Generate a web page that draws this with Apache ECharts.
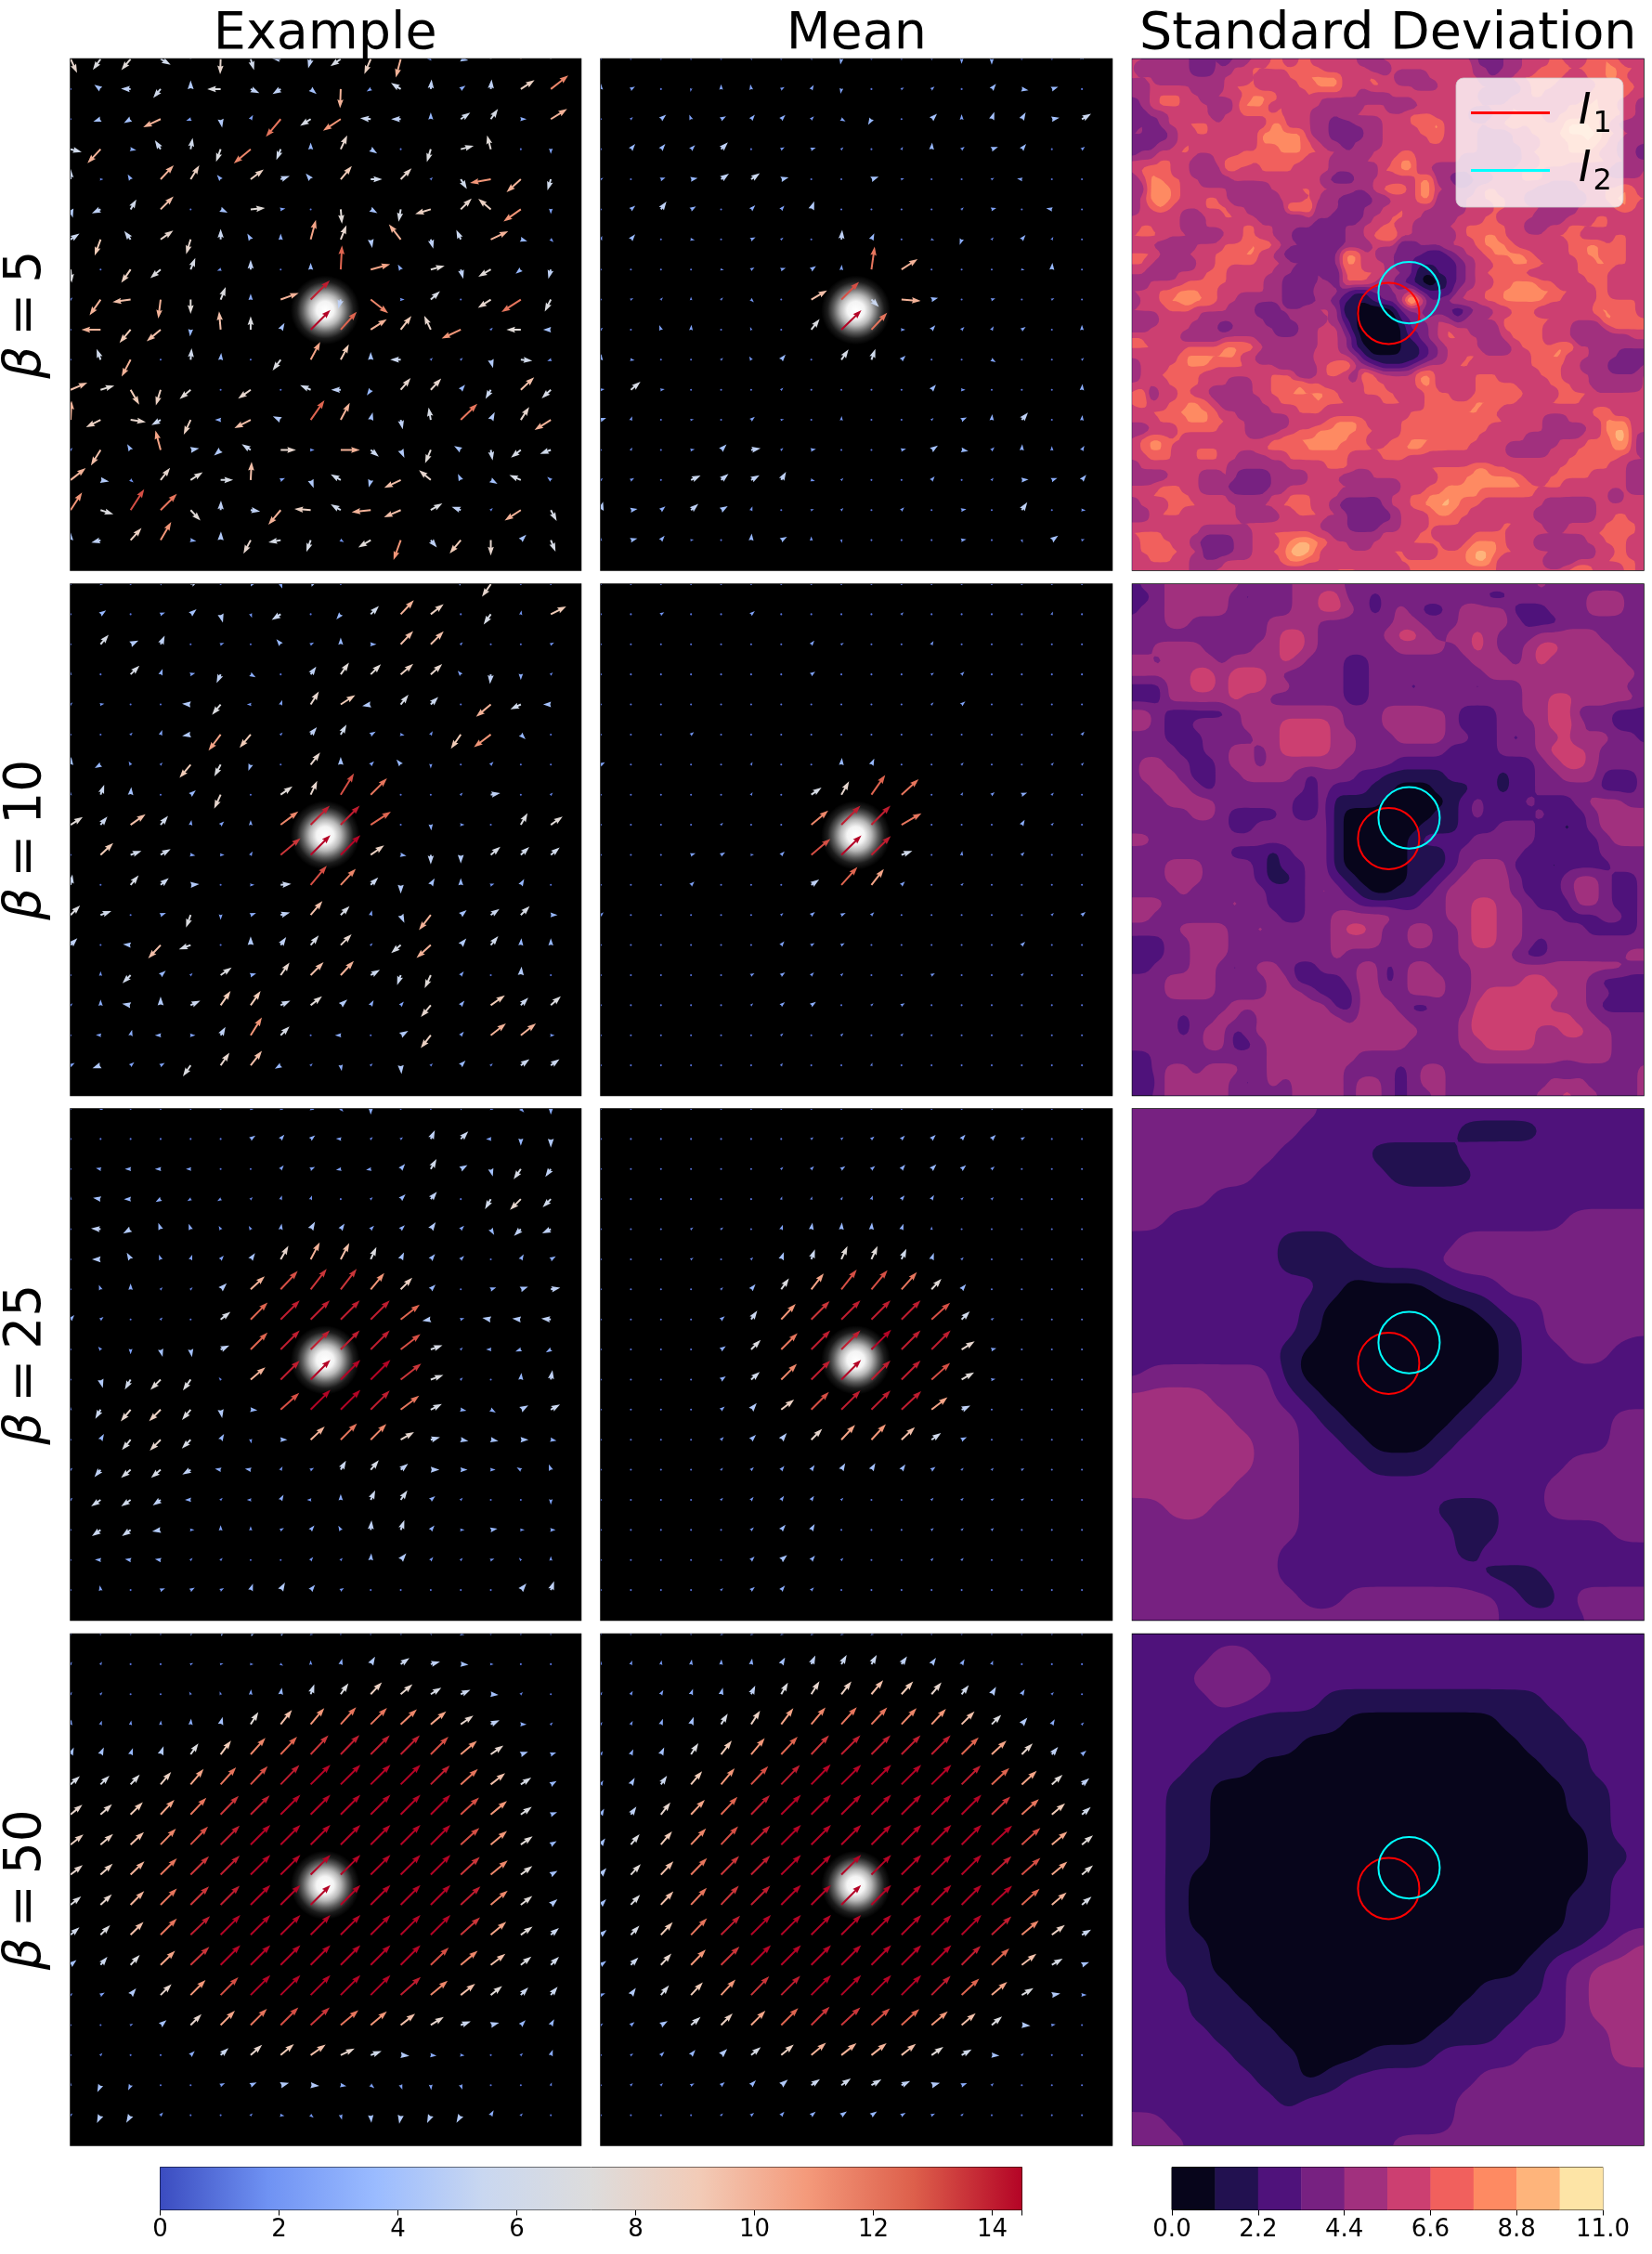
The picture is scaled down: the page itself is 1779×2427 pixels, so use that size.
<!DOCTYPE html>
<html>
<head>
<meta charset="utf-8">
<title>Quiver and standard deviation panels</title>
<script src="https://cdn.jsdelivr.net/npm/echarts@6/dist/echarts.min.js"></script>
<style>
  html, body { margin: 0; padding: 0; background: #fff; }
  #chart { width: 1779px; height: 2427px; }
</style>
</head>
<body>
<div id="chart"></div>
<script>
// labels
const columnTitles = ['Example', 'Mean', 'Standard Deviation'];
const betaValues = [5, 10, 25, 50];

// colour maps
const coolwarmStops = ['#3b4cc0', '#6f92f3', '#9abbff', '#c9d7f0', '#dddcdc', '#f2cbb7', '#f49a7b', '#dd5f4b', '#b40426'];
const magmaBands = ['#07051b', '#221150', '#4f127b', '#772181', '#a1307e', '#cc3f71', '#f1605d', '#fe8a62', '#feb47b', '#fde4a6'];
const bandEdges = [0, 1.1, 2.2, 3.3, 4.4, 5.5, 6.6, 7.7, 8.8, 9.9, 11];

// circles: x, y, r in panel units
const circleI1 = [8.52, 8.46, 1.02];
const circleI2 = [9.2, 7.77, 1.02];
const glowCentre = [8.48, 8.35, 1.15];

// arrow magnitudes and angles (degrees) on the 17 x 17 lattice
const ex5Mag = [
[8,7,7.5,6,5,8,6,5,5,6.5,8.5,10,2,4,6,10,7],
[1,4,5,6,4.5,7,5,5,4,10,2.5,6,5,3,5,8.5,11.5],
[1,4,4,10,2.5,4.5,2.5,12,6.5,11,5.5,5,3.5,6,6.5,3,10],
[6,10,3,5.5,6,7,11.5,6,3.5,8,4,1,7,7,7.5,1,2.5],
[5.5,1.5,3,10,8.5,3,8.5,5,4,9,6,8,1.5,6,11,10,6],
[4.5,5,6,9.5,1,4,7.5,2.5,1,7.5,4,6.5,8.5,8,8.5,11,2.5],
[5.5,9,5.5,8,8,5.5,3.5,3,10.5,8,4.5,10,5,5.5,10,3.5,2],
[7,1,8.5,7,6.5,2,5,1,3.5,12.5,10.5,3,7.5,5,7.5,3.5,5],
[1.5,10,9.5,10,7.5,7,3,10,14,5,11.5,2,6.5,1,8,12,7],
[1,10,9,9.5,3.5,9.5,7,4,14.5,12.5,10,9,8,11,1.5,7.5,4],
[1,6,10,1,6,3.5,1,7,10.5,9,4,5.5,1.5,1.5,4.5,6,2],
[9.5,7.5,9,8.5,7.5,1,8,1,6,5,3.5,8,8,3.5,5.5,9.5,6.5],
[10,8.5,8,5.5,8.5,3,9.5,4.5,12.5,10,4,5,6.5,12,4.5,8,10],
[1.5,9.5,3.5,10.5,4.5,4.5,5.5,8,2,10,5.5,4.5,7.5,4,5.5,6.5,6],
[10,4.5,2,8,7.5,6.5,9.5,2.5,4.5,6,4,9.5,8,3.5,4,6.5,2.5],
[11,7,13,12,7.5,5,5,10,8.5,6,10,9.5,7,5,1.5,10,6.5],
[4,5,8.5,11,3,4.5,8,6.5,6.5,2,7.5,11,5,9,8,4,6.5]];
const ex5Ang = [
[-65,-125,-130,-30,95,-92,-73,175,-105,-145,-113,-105,180,-10,90,90,90],
[0,145,178,-130,90,180,-25,-148,-40,-92,-150,148,85,35,85,33,38],
[45,200,210,205,200,-80,60,-130,-148,-147,175,180,90,35,55,0,32],
[-15,-133,-10,123,80,-110,-140,-112,90,65,-33,45,-107,15,105,45,-90],
[90,0,120,47,58,130,37,20,130,50,0,45,45,-58,190,-138,-107],
[-75,205,60,45,45,-25,5,10,45,-85,-30,-100,197,45,140,-145,-90],
[33,-110,127,35,-107,90,120,90,75,68,-80,128,-75,115,25,-15,-45],
[-85,45,-125,-140,68,200,90,45,90,87,15,120,15,-75,-150,-140,-105],
[45,-125,188,-97,-90,68,90,20,45,-105,-38,0,42,45,-147,-147,-117],
[45,180,-130,-140,-95,95,90,60,45,48,33,52,115,-155,45,180,180],
[45,110,-118,45,85,85,45,-127,62,62,90,180,45,45,-75,-5,200],
[23,17,-60,-107,-140,45,-145,45,157,180,-125,50,47,50,-120,43,-137],
[87,-153,-8,-150,-115,180,-153,155,55,62,75,-78,100,44,63,57,-148],
[45,-122,120,105,10,220,147,0,0,0,-40,-65,-113,150,-80,-142,-160],
[38,-10,-40,52,33,0,87,25,-70,150,-105,-155,140,115,-30,157,140],
[57,-18,57,45,-47,88,-8,-130,176,150,186,-157,30,160,45,-147,-62],
[90,195,48,60,-10,88,-118,190,-110,-30,-150,-110,-50,-130,-90,45,-68]];

const mean5Mag = [
[1,1,1,1,1,1.5,1,1.5,3,1,1,1.5,2.5,3,1,1,2.5],
[3,2.5,1,1.5,2.5,2.5,2,2.5,2.5,1,1.5,2,1,3.5,3.5,3.5,1],
[1,1.5,3.5,2.5,3,3,3,2,2.5,3.5,1,4,2.5,4,4,4,5.5],
[1,3.5,3.5,3,5,1,2,2.5,1.5,1,1.5,3.5,2,3.5,3.5,1,2],
[1.5,1,2.5,3.5,5,5.5,4,1,1,4,1.5,1,1,1.5,2.5,1,1],
[1,3,5,3,1,3,2.5,4.5,1,1,1,1,1.5,2.5,1,3,1],
[2,3.5,1,2,1,2.5,1.5,1,5,3.5,1,1.5,3,1.5,3,1.5,1],
[1,1,1,1,1.5,2,2.5,3,2.5,12,10,1,1,1,1.5,3.5,1],
[1,1.5,1.5,1.5,1.5,2,1,9.5,13,5.5,10,3.5,1,2,1,1.5,1],
[1.5,1,2.5,2.5,1,1.5,1,7,14.5,12,2,3,2,2,2.5,1,2.5],
[3,2,1,1,1.5,2,3.5,1,6.5,6,3,1,1,2.5,1,1,1.5],
[2,6.5,2,1,1,1,1.5,1,1,1,1,3.5,2,1,1,1,3],
[3,2,1,1.5,1,2.5,1.5,1,2,1,1,1.5,3,3,5,1,2.5],
[1,1.5,1,2,4,5,1.5,2.5,1,1,2.5,4,3.5,2,3,2,2.5],
[1.5,2,1,5.5,5,5,5,2,1.5,1,1,2.5,1,1.5,3.5,3,3.5],
[4.5,3.5,3,5,4,2,1,1.5,1.5,1,2,1,2.5,1,5,1,2],
[1.5,3.5,3,1.5,1,3.5,3.5,2,1.5,1,1,1,2.5,1,1.5,4,1.5]];
const mean5Ang = [
[45,45,45,45,45,45,45,45,-100,45,45,45,-90,-90,45,45,90],
[90,30,45,-100,90,100,30,60,-100,45,30,40,45,50,-10,20,45],
[45,45,40,110,30,50,45,45,-30,-120,45,45,90,70,60,10,30],
[45,50,50,45,45,45,30,20,45,45,60,85,40,20,50,0,40],
[30,45,20,10,35,35,15,45,45,20,20,45,45,30,170,45,45],
[45,40,55,30,45,45,50,70,45,45,45,45,45,15,45,170,45],
[70,50,45,-10,45,25,40,45,85,65,45,-20,-110,50,50,60,45],
[45,45,60,45,-10,30,20,35,85,82,33,45,45,45,-10,85,45],
[45,30,45,90,45,-45,45,30,45,-45,-4,15,45,20,45,30,45],
[45,45,110,85,45,110,45,52,44,47,0,50,45,60,35,45,90],
[85,-10,45,45,45,120,50,45,55,70,45,45,45,-30,45,-90,45],
[10,40,10,45,45,45,45,45,45,45,45,50,0,45,45,45,85],
[20,70,45,10,45,40,10,45,85,45,45,45,25,85,50,45,85],
[45,60,45,10,45,10,45,10,45,45,15,35,-10,45,85,90,60],
[45,30,45,25,40,30,60,-15,45,45,45,50,45,50,5,20,50],
[75,10,40,40,30,70,45,20,45,45,45,45,10,45,55,45,-5],
[90,15,50,10,45,85,30,90,-80,45,45,45,10,45,-70,35,20]];

const ex10Mag = [
[1,1.5,1,1.5,5,1,3,2.5,4,1,6,8,8,2.5,8,1,1],
[1,3.5,1,2.5,4,4.5,2,5.5,1,3.5,6,10,8.5,1,6.5,2,9],
[1,6.5,4.5,5,1,2,1,3.5,2,3.5,3,9.5,9.5,1.5,1,1,2],
[1.5,1,6.5,3,2.5,5,3,1,5,7.5,7.5,8.5,8,2.5,5,3,1.5],
[1.5,2,1,1,4.5,7,2,2.5,8,9,4.5,6.5,5.5,1,10,6,4],
[1,1,1.5,2.5,4.5,10.5,9,1.5,5,6,3,2,2,9,11,3.5,1],
[4,3.5,2,1.5,9,7,3.5,1,8,4,2.5,3.5,2,1,2,1,1],
[1.5,5.5,4,1,3.5,8,1,7.5,8,13,12,1,1,1.5,5,1,1.5],
[7.5,5.5,9.5,6,2.5,2.5,2.5,11.5,14,14,12.5,1,3,2,1,7,7.5],
[1,9,6,6,2.5,2,2,13.5,14.5,14.5,8.5,3,5,4.5,6.5,6,6],
[5.5,1,6.5,5.5,4.5,1,2,5.5,13,11.5,5.5,4.5,4,3.5,2,3.5,1],
[7,6,1,3,7,2.5,3,5,9.5,6.5,2.5,4.5,10,4,5.5,6.5,3.5],
[5,1,4,9.5,6.5,1,4.5,5,6.5,8,1.5,6.5,10,4.5,6,3.5,3.5],
[1,2,6,3.5,1.5,7,3,8,9.5,10,5.5,5.5,7.5,2.5,1,4.5,1],
[1.5,3,4.5,4.5,5.5,9,9,5.5,7.5,4.5,3,2.5,8,3,9,5.5,7],
[1,2.5,3,3,2.5,5,11,6.5,1,3,1,4.5,8.5,2.5,10,10,2],
[2.5,4.5,2.5,2.5,7,8,9.5,3.5,1.5,3,1.5,4.5,1.5,3.5,1.5,5.5,5.5]];
const ex10Ang = [
[45,0,45,45,25,45,15,-70,25,45,90,90,90,130,-125,45,45],
[45,35,45,20,40,-75,-70,-148,45,-130,45,47,38,45,-125,80,27],
[45,50,25,65,45,20,45,130,30,90,0,47,45,45,45,45,30],
[90,45,45,70,15,-115,-30,45,55,55,45,40,42,130,-95,-90,45],
[45,10,45,45,175,-130,180,70,58,33,-170,52,45,45,-140,-155,180],
[45,45,45,70,-170,-127,-130,45,50,60,30,-10,60,-125,-143,-45,45],
[85,-150,120,45,-130,-118,-110,45,52,90,45,130,-90,45,45,45,45],
[90,70,85,45,40,-115,45,35,65,58,45,45,45,45,10,45,45],
[32,50,35,50,80,45,90,37,45,45,33,45,-85,0,45,60,35],
[45,43,20,30,-10,0,60,40,45,45,35,-10,-90,-90,40,43,40],
[80,45,50,40,5,45,0,5,50,47,45,-90,60,90,20,60,45],
[45,20,45,20,-110,-90,20,15,50,45,75,-65,-128,40,35,45,0],
[45,45,175,-133,-160,45,90,55,50,45,45,-140,-138,50,50,85,90],
[45,90,-135,40,45,35,15,55,45,47,30,-110,-115,50,45,85,45],
[45,90,170,90,25,55,55,25,38,40,60,50,-130,50,35,45,42],
[45,175,75,180,0,60,58,45,50,180,45,30,-128,50,38,38,0],
[30,-160,40,30,-125,55,52,-150,45,-80,45,-85,45,45,45,35,35]];

const mean10Mag = [
[1,1,1,1,1,1,1,1,1,1,1,1,1,1,1,1,1],
[1,1,2,1,1,2.5,1,1,1,1,1.5,1,1,1,1,1.5,1],
[1,1,1,1,1,1,1,2.5,1.5,1,1,2,1,1,1,1,1],
[1,1,1,1,1,1,1,2.5,1,1,1,1.5,2,1,1,1,1],
[1,1,1,1,1,1,1,1,1,1,1,1.5,2.5,1,1,1,1],
[1,1,1,2,1,1,1,1,1,1,1,1,1,1,1,1,2],
[2.5,1,1,1,1,1.5,1,1,3.5,3.5,1,1,1.5,1,1,1.5,1.5],
[1,1,1,1,1,1.5,1,6.5,8,12.5,12,1,1.5,2,3,1.5,1],
[1,1,1,1,1.5,1,1,11.5,14,14,12,1,1,1,3,1.5,1],
[1,1,1,2.5,2.5,1.5,2.5,13,14.5,14,6,1,2,1,2,1,1],
[1,1,1,2.5,1,1,1,5,12.5,10.5,2.5,1,1.5,1,1,1,1],
[2,1,1,1,1,1,1.5,2.5,2.5,2,1,1,1,1,1,1.5,2.5],
[1,1,1,1,1,1,2.5,2,2,1,1,1,1,1,2.5,1,1],
[1,1,1,1,1,2,2.5,2,1.5,1,1,2,1,1,1.5,1,1],
[1,1,1,1,1,1.5,2.5,3,1,1.5,2,1,1,1,1,1,1],
[1,1,1,1,1,1,1.5,1,1.5,1,1.5,1,1,1,1,1,1],
[1,1,1,1,1,1,1.5,1,1,1.5,1,1,1,1,1,1,1]];
const mean10Ang = [
[45,45,45,45,45,45,45,45,45,45,45,45,45,45,45,45,45],
[45,45,30,45,45,40,45,45,45,45,45,45,45,45,45,70,45],
[45,45,45,45,45,45,45,50,30,45,45,60,45,45,45,45,45],
[45,45,45,45,45,45,45,35,45,45,45,30,45,45,45,45,45],
[45,45,45,45,45,45,45,45,45,45,45,45,40,45,45,45,45],
[45,45,45,40,45,45,45,45,45,45,45,45,45,45,45,45,50],
[30,45,45,45,45,60,45,45,85,65,45,45,45,45,45,45,45],
[45,45,60,45,45,60,45,35,60,55,42,45,60,40,20,45,45],
[45,45,45,45,45,45,45,40,45,45,30,45,45,45,60,45,45],
[45,45,45,20,30,10,45,40,44,44,20,45,80,45,45,45,45],
[45,45,45,45,45,45,45,35,48,52,45,45,45,45,45,45,45],
[45,45,45,45,45,45,45,40,25,45,45,45,45,45,45,45,40],
[45,45,45,45,45,45,50,30,30,45,45,45,45,45,45,45,45],
[45,45,45,45,45,30,35,45,45,45,45,30,45,45,45,45,45],
[45,45,45,45,45,45,40,35,45,45,30,45,45,45,45,45,45],
[45,45,45,45,45,45,45,45,45,45,45,45,45,45,45,45,45],
[45,45,45,45,45,45,60,45,45,70,45,45,45,45,45,45,45]];

const ex25Mag = [
[1,1.5,1,1,1,1,1.5,1.5,2,2,3,1,1,1.5,1.5,2.5,3],
[1,1,1,1,1,1,3,3,3,2.5,1.5,1.5,5,5.5,2.5,3.5,4.5],
[1,2.5,3,3,2.5,1,1,2.5,2.5,2.5,2.5,3.5,6,4,4,6.5,5],
[1.5,4,3.5,3,2,2,1.5,2,2,1,1.5,3.5,5,1,6,8,6],
[1,5,4.5,3.5,3,2,2,3,4.5,3.5,2.5,3,4.5,2.5,3.5,5,5],
[1,4.5,4,2.5,2.5,2.5,4,8,10,9.5,7,4,3.5,2.5,1,3,3],
[1,2.5,3,1.5,1.5,4.5,10,13,13.5,13.5,11,8.5,3.5,1,3,4,5],
[3,2,1,1.5,1,6.5,12.5,14,14,14,14,12.5,4.5,2,4.5,4.5,5],
[1,2,2.5,4,4,5,12.5,14,14,14,14,13,6.5,1.5,2.5,3,3],
[1,4.5,6,7.5,7,1.5,10,14,14.5,14.5,14.5,13.5,7,1.5,1,3.5,5],
[1.5,5.5,8,8.5,7,4.5,3.5,13,14.5,14.5,14,12,6.5,3,3,4.5,5.5],
[1,3.5,7,8,6.5,3.5,2,3.5,10,12,11.5,8,5,4,4,4,3],
[1.5,5,6.5,6.5,5,3,3,2,2,5.5,6.5,5,4.5,3.5,2.5,2.5,3],
[1.5,6,6,5,3,1.5,2,3,2,3,5.5,6,3,1.5,1,1,2.5],
[1,5.5,5.5,4.5,2,2.5,2,2,3,2.5,5,5.5,3,2,3.5,2,2.5],
[1,3,3,3,1.5,1.5,1,1,2,1.5,3.5,4.5,2,1.5,2,1.5,2],
[1,2.5,1,2.5,2.5,2,3.5,4.5,3.5,2,1,1,1,1,1,4.5,5]];
const ex25Ang = [
[45,-20,45,45,45,45,-10,-10,-10,-45,-90,45,45,45,-10,-45,-90],
[45,45,45,45,45,45,35,50,40,175,45,40,65,45,180,-90,-90],
[90,170,180,180,180,45,45,50,25,-170,-170,50,60,30,-75,-125,-125],
[90,170,180,-150,-150,-150,45,70,70,45,45,45,50,45,-120,-135,-135],
[45,175,-150,110,110,120,120,80,60,55,45,45,55,45,-60,-135,-155],
[45,180,120,110,70,50,55,60,62,62,65,65,50,45,45,60,30],
[45,110,90,45,45,45,43,47,52,52,50,45,45,45,20,20,10],
[50,40,45,45,45,38,45,45,45,45,45,38,-170,20,170,175,175],
[45,130,-90,-75,-80,25,45,45,45,45,45,38,20,45,180,-160,-150],
[45,-75,-120,-135,-125,130,40,45,45,45,45,38,20,45,45,85,80],
[90,-120,-130,-135,-130,-80,-5,42,45,45,45,37,27,-10,-30,30,30],
[45,60,-130,-135,-135,60,-80,0,43,45,45,30,15,-10,-10,0,-10],
[45,-130,-140,-140,-150,170,170,60,30,60,50,40,0,0,0,150,110],
[45,-145,-145,-145,180,45,180,60,180,90,65,55,40,45,45,45,-90],
[45,-145,-145,-170,0,90,90,30,50,120,85,70,50,0,10,0,0],
[45,175,170,170,45,45,45,45,50,45,85,50,50,45,20,130,90],
[45,100,45,20,30,30,70,60,50,30,45,45,45,45,45,50,70]];

const mean25Mag = [
[1,1,1,1,1,1,1,1,1,1,1,1,1,1.5,1.5,1,1],
[1,1,1,1,1,1,1,1.5,1.5,2,2.5,3,3,3,2,1,1],
[1,1,1,1,1,1,1.5,2,2.5,2.5,3,3.5,3,2,1,1,1],
[1,1,1,1,1,1,1.5,1.5,1.5,2,2.5,2.5,1.5,1.5,1,1,1],
[1,1,1,1.5,1.5,1,2.5,3.5,3.5,3.5,3,1.5,1,1,1,1,1],
[1,1,1,1.5,1,1.5,4,5.5,7.5,7.5,6,3.5,1.5,1,1,1,1],
[1,1,1,1,1.5,3.5,7,10.5,13,13,12,7.5,3.5,1,1,1,1],
[1,1,1,1,2.5,5.5,11,13.5,14,14,14,13,6,1.5,1,1,1],
[1,1,1,1,3,7,12,14,14,14.5,14,14,8,2.5,1,1,1],
[1,1,1,1,3,6,11.5,14,14.5,14,14,13,7.5,2,1,1,1],
[1,1,1,1,2.5,4.5,8.5,13,14,14,14,10.5,5,1,1,1,1],
[1,1,1,1,2,3.5,4.5,8,10.5,11,9.5,6,3,1,1,1,1],
[1,1,1,1,1.5,2,2.5,3,4,4,3.5,2.5,1.5,1.5,1.5,1,1],
[1,1,1,1,1.5,2,2.5,2.5,1.5,1,1,1.5,1.5,1.5,1.5,1,1],
[1,1,1,1,1,2,3.5,3.5,1,1,1,1.5,1.5,1.5,1,1,1],
[1,1,1,1,1,2.5,4,3,1.5,1,1,1.5,1.5,1,1,1,1],
[1,1,1,1,1.5,2.5,3,2,1,1,1,1,1,1,1,1,1]];
const mean25Ang = [
[45,45,45,45,45,45,45,45,45,45,45,45,45,30,30,45,45],
[45,45,45,45,45,45,45,40,40,40,45,45,50,45,30,45,45],
[45,45,45,45,45,45,45,45,35,40,50,45,40,40,45,45,45],
[45,45,45,45,45,45,70,70,60,70,50,60,45,45,45,45,45],
[45,45,45,40,40,45,70,80,85,85,70,90,45,45,45,45,45],
[45,45,45,30,45,45,70,70,65,65,65,70,45,45,45,45,45],
[45,45,45,45,45,50,55,52,52,50,48,47,50,45,45,45,45],
[45,45,45,45,40,55,47,45,45,45,45,42,45,30,45,45,45],
[45,45,45,45,35,45,45,45,45,45,45,45,32,15,45,45,45],
[45,45,45,45,35,42,45,45,45,45,45,42,30,10,45,45,45],
[45,45,45,45,40,50,38,45,45,45,43,38,25,45,45,45,45],
[45,45,45,45,45,45,50,45,47,47,43,35,25,45,45,45,45],
[45,45,45,45,45,45,50,55,60,60,55,35,45,45,30,45,45],
[45,45,45,45,45,50,55,55,45,45,45,45,45,30,30,45,45],
[45,45,45,45,45,45,50,60,45,45,45,40,45,40,45,45,45],
[45,45,45,45,45,45,40,50,45,45,45,45,45,45,45,45,45],
[45,45,45,45,45,40,50,45,45,45,45,45,45,45,45,45,45]];

const ex50Mag = [
[1,1,1,1,2,3,3.5,3,1.5,1,1,1.5,1.5,2,1,1,1],
[1.5,1.5,1,1,1.5,1.5,1.5,1.5,2,3,4.5,5.5,5,4,1.5,1,1],
[1.5,1.5,1,1,1.5,1.5,2.5,3.5,5.5,7,8.5,8,6.5,5.5,4,1.5,1],
[2.5,2,2,2,3,4,7.5,9.5,11,12,12,11.5,10.5,8,5,3,1.5],
[4,4,3.5,4.5,7,9,11.5,12.5,13.5,14,14,14,13,11,8,4,3],
[6.5,6.5,7,8.5,10.5,12,13,14,14.5,14.5,14.5,14.5,14,12,9.5,6.5,3.5],
[8,8,9,10.5,12,13.5,14,14.5,14.5,14.5,14.5,14.5,14.5,13,11,7,3.5],
[8.5,8.5,9.5,11.5,13,14,14.5,14.5,14.5,14.5,14.5,14.5,14.5,13,11,7.5,3.5],
[8,8.5,10,12,13.5,14,14.5,14.5,14.5,14.5,14.5,14.5,14.5,13.5,11.5,7.5,4],
[7,8,10,12,13.5,14,14.5,14.5,14.5,14.5,14.5,14.5,14.5,14,11.5,7.5,4.5],
[6,7,9.5,12,14,14.5,14.5,14.5,14.5,14.5,14.5,14.5,14.5,13.5,10.5,7.5,5.5],
[4,5.5,7,10.5,13.5,14.5,14.5,14.5,14.5,14.5,14.5,14.5,13,11.5,9.5,7,6],
[1.5,2.5,4.5,8,11,13,14.5,14.5,14.5,14.5,14.5,14,11.5,9.5,7.5,5.5,5.5],
[1,1,1.5,4,8,10.5,12,13,13.5,12,11,9.5,8,5.5,4.5,3.5,3.5],
[1,1.5,1,1,3,5.5,8,9,9.5,8,6,4.5,3,2,1,1.5,3],
[1.5,4,3,1,1,2.5,3.5,4.5,4.5,3,2.5,2.5,2.5,2.5,1,1,1.5],
[1.5,4.5,4.5,2,1,1,1.5,2,2,2.5,4,4.5,4.5,4.5,3,1.5,1]];
const ex50Ang = [
[45,45,45,45,30,35,25,30,-10,45,45,45,45,-10,45,45,45],
[60,60,45,45,20,10,0,-30,90,75,60,35,15,-5,0,45,45],
[60,50,45,45,120,110,85,80,70,55,47,40,32,25,-5,45,45],
[80,70,80,85,85,75,58,52,50,48,45,43,40,35,25,0,45],
[65,65,70,70,55,53,48,47,47,46,45,45,45,40,35,20,20],
[42,45,47,50,50,48,47,46,45,45,45,45,45,42,38,33,30],
[40,42,45,47,47,46,45,45,45,45,45,45,45,43,40,35,20],
[38,40,43,46,46,45,45,45,45,45,45,45,45,42,40,35,30],
[38,42,44,45,45,45,45,45,45,45,45,45,45,43,40,37,30],
[38,43,45,45,45,45,45,45,45,45,45,45,45,43,40,37,40],
[40,45,45,45,44,45,45,45,45,45,45,45,45,42,40,35,40],
[40,50,47,44,44,45,45,45,45,45,45,45,44,40,37,38,45],
[45,30,50,45,45,45,45,45,45,45,45,42,40,38,38,45,50],
[45,45,30,40,45,45,45,45,43,40,40,38,32,20,15,45,60],
[45,50,45,45,45,42,42,40,35,25,20,-5,-5,-5,45,40,70],
[90,-115,-115,45,45,25,25,15,-5,-10,-40,-70,-85,-70,45,45,70],
[45,-115,-120,50,45,45,45,-10,-40,-75,-85,-100,-115,-120,60,45,45]];

const mean50Mag = [
[1,1,1,1,1.5,1.5,1.5,1.5,1.5,1.5,1,1,1,1,1,1,1],
[1.5,2,2,2.5,2.5,3,4,5,5.5,5.5,5,4,3,2,1,1,1],
[1.5,2,2.5,3,3.5,5,7,8,8.5,9.5,9,8,6,4.5,3,1.5,1],
[1.5,2,3,4,6.5,8.5,10.5,11.5,12,12,11.5,11,9.5,7,4.5,3,1.5],
[2,3,4,7,9,11,12.5,13.5,14,14,14,14,12.5,10.5,8,5,3],
[2.5,4,5.5,9,11,13,14,14.5,14.5,14.5,14.5,14.5,14,12.5,10.5,7.5,5],
[3.5,5,8,10.5,12.5,14,14.5,14.5,14.5,14.5,14.5,14.5,14.5,13.5,12,9,6],
[4,7,9,11.5,13,14,14.5,14.5,14.5,14.5,14.5,14.5,14.5,14.5,13,10.5,7.5],
[4.5,7.5,9.5,12,13.5,14,14.5,14.5,14.5,14.5,14.5,14.5,14.5,14,13,10.5,7.5],
[4,7,9.5,12,13.5,14,14.5,14.5,14.5,14.5,14.5,14.5,14.5,14.5,12.5,10,6.5],
[4,6.5,9,12,14,14.5,14.5,14.5,14.5,14.5,14.5,14.5,14.5,14,11.5,8.5,5.5],
[3.5,5.5,8,11,13.5,14.5,14.5,14.5,14.5,14.5,14.5,14.5,14,12.5,9.5,6.5,4],
[2.5,4.5,6.5,9,11,13.5,14,14.5,14.5,14.5,14.5,14,12.5,10.5,7,4.5,2.5],
[1.5,2.5,4,6.5,8.5,10.5,12.5,13.5,13.5,13,12.5,11,9.5,7,4.5,2,1],
[1,1.5,2.5,3.5,4.5,6.5,8.5,10,10,10,9.5,7.5,6,4,1.5,1,1],
[1,1.5,1.5,2,2.5,3.5,4.5,5.5,6,6,5,4.5,3,1.5,1,1,1],
[1,1,1,1,1.5,2,2.5,3,3.5,3.5,2.5,2,1.5,1,1,1,1]];
const mean50Ang = [
[45,45,45,45,-10,-10,-10,-10,-10,-10,45,45,45,45,45,45,45],
[80,70,80,80,85,80,60,65,60,60,55,55,60,70,45,45,45],
[60,60,60,70,75,65,60,58,52,50,48,50,52,60,60,45,45],
[60,60,70,70,58,57,53,50,48,47,47,47,45,45,50,60,45],
[60,65,65,57,52,50,47,47,45,45,45,45,45,43,45,50,40],
[60,60,55,50,50,47,46,46,45,45,45,45,45,43,42,42,40],
[60,55,52,47,47,46,45,45,45,45,45,45,45,44,42,40,40],
[55,50,50,47,47,45,45,45,45,45,45,45,45,43,42,40,40],
[50,47,47,46,46,45,45,45,45,45,45,45,45,43,42,40,40],
[45,47,47,47,47,45,45,45,45,45,45,45,45,43,42,40,40],
[40,47,47,46,45,45,45,45,45,45,45,45,45,43,40,37,30],
[35,45,47,46,45,45,45,45,45,45,45,45,45,43,37,30,20],
[20,55,50,47,47,46,45,45,45,45,45,45,43,40,30,10,0],
[40,40,30,40,45,45,45,45,43,42,42,40,40,40,-5,10,45],
[45,30,45,50,45,40,40,40,38,38,38,35,30,-5,45,45,45],
[45,45,45,30,40,45,40,35,35,30,25,15,20,45,45,45,45],
[45,45,45,45,45,40,50,40,35,35,30,25,45,45,45,45,45]];

// standard deviation bands, one digit per sample (0-9), spaced in fives to keep columns aligned
const sd5Rows = [
'55445 44334 34455 66566 55555 44555 55555 55433 44555 66556 67655 5',
'54445 44334 45566 66666 65555 54455 55555 56443 44556 67666 67766 5',
'55544 44444 55565 55667 77755 66554 44555 55544 55667 76556 67765 5',
'44555 55444 56665 55566 77755 56655 54455 55555 44566 65555 66676 5',
'44566 65545 55677 75556 55555 44455 56655 55544 45566 55556 76665 5',
'34566 65554 45777 56555 54444 55544 45566 65555 56555 55667 76655 4',
'33445 55554 55666 66555 44455 55555 66655 55445 56666 56667 77665 4',
'34345 56665 55555 77555 44334 44555 66775 55556 67666 66888 76544 5',
'44334 55665 56557 77775 44333 44555 56675 55544 45566 67888 86655 4',
'33344 56555 55557 77776 54434 44555 55665 55544 45556 66778 76544 4',
'34455 66555 55666 67776 65544 45556 65555 55544 44566 66777 65544 3',
'55566 55445 67766 66665 55444 55567 75555 54444 44556 77666 66554 4',
'56766 55444 66556 66655 55444 44667 75544 44555 55666 55555 55444 5',
'45776 65544 45555 55555 54334 45555 57744 33445 55666 55555 55555 5',
'54787 65555 54444 55566 55554 45677 57755 44566 55554 44455 56676 5',
'45787 65566 54444 45556 54433 34455 57744 45566 65544 44445 56776 6',
'45676 55566 65544 44777 45433 44556 55544 45556 65555 44455 55676 5',
'55555 54455 66554 44445 44333 45566 55444 55566 55554 44555 66555 5',
'56655 54455 55665 54444 33344 55665 54445 56666 65544 55666 66555 6',
'66665 55444 55665 54433 33344 56775 54444 56677 65555 66665 55665 5',
'55544 44555 66677 65443 43344 45553 34445 55677 76555 55667 76665 5',
'66654 45556 66775 54333 33477 55443 33223 45567 77765 55667 76665 5',
'66544 44556 66665 55444 33477 55543 32222 34556 67776 65566 77665 5',
'55444 55566 65555 54433 43366 66544 31122 34566 66655 55566 66555 5',
'44555 56666 65555 44333 44366 65443 21012 34556 67776 65556 66555 5',
'55566 77766 55555 44333 55432 23344 53222 45566 77787 76655 66555 5',
'45567 78776 55444 44333 44321 12335 96334 55566 77777 66555 66666 5',
'55556 66555 54443 34445 55411 00013 44333 23445 56665 55555 77666 5',
'44455 55544 44444 33444 45421 00002 34454 34555 66666 66555 57776 6',
'44555 55444 34444 43344 55531 00001 33456 55444 66666 55544 45666 6',
'66555 54444 55554 44444 55542 00001 23456 65544 56666 55544 44445 5',
'66655 56666 77765 44444 55542 10001 12345 55544 45666 67755 44444 4',
'55555 67777 77554 44444 65554 21111 12345 56655 55566 77555 44433 3',
'45556 67776 66655 54444 56775 43222 34555 66555 55566 66554 44333 4',
'45566 66655 55555 66644 56654 76555 57755 55666 55556 66555 44444 5',
'55556 66655 54455 66676 65555 66655 57755 55666 66555 66655 44444 5',
'67455 66554 44455 66777 77655 66665 55766 55666 77655 56666 55555 5',
'67556 67765 44445 56666 76665 55666 55766 66777 66556 66665 55556 5',
'55666 77776 55444 55566 65555 55555 66677 77766 55555 55555 77555 5',
'55566 67776 65544 44555 56777 65556 67766 66666 65555 44555 57775 5',
'44555 66666 55544 45566 77777 66556 66666 77665 55555 44445 57885 5',
'56776 65555 55555 66777 77776 65566 77776 66655 55544 45556 66885 4',
'56776 55666 55556 66667 77766 66677 77666 66555 54444 55566 66775 4',
'55666 55666 55444 55666 66665 55666 55555 55555 55555 55666 66655 5',
'45555 55555 54444 44555 56665 55555 56666 66776 65555 56666 66554 4',
'44445 55544 54333 44445 55544 45555 55566 67777 77655 66666 55554 4',
'55566 65544 43333 44555 55555 54445 55667 77777 77766 66555 55554 4',
'55666 66555 54444 55666 55544 44455 66778 77766 66665 55555 55455 5',
'45556 66655 55445 56676 55433 33455 67788 76655 55555 44444 55555 5',
'44566 65555 55444 45566 65543 33345 55677 66555 55554 44444 55665 5',
'55555 55555 55555 55555 54443 33445 55666 65555 66555 44555 56666 5',
'66665 55544 44455 66666 55444 44555 56655 55666 65555 55555 66666 5',
'56766 55433 34455 56788 76554 45555 66665 56777 65554 44445 56665 5',
'56676 65533 34455 66898 65555 55666 55566 67887 66555 54444 55665 5',
'55666 55444 55555 56776 65555 55556 66666 67886 55555 44455 56666 5',
'55555 55445 55555 55555 55666 55555 66666 66666 55555 55677 55566 5'];

const sd10Rows = [
'23344 44443 33344 44333 33333 33333 33433 33333 3',
'22344 44432 33344 55332 33333 33322 33333 34443 3',
'23344 44433 33344 55432 34322 34444 22233 34443 3',
'33344 33333 34444 33333 34433 34444 32223 33333 3',
'33333 33333 34554 33333 45543 44543 33444 44333 3',
'33444 43333 44554 33333 34444 34543 34554 44433 3',
'44344 44344 44543 33223 33333 33444 34544 44443 3',
'44444 55455 54333 33223 33333 33344 44444 44444 3',
'22244 55455 54433 33223 33233 33233 34444 44443 3',
'22244 44454 43333 33223 33332 33333 34455 44444 3',
'44322 22234 44444 44333 44444 32223 34455 33322 2',
'44322 33334 44555 54333 44444 32223 33455 43322 2',
'33322 23333 44555 54433 34444 33223 23445 34433 2',
'33332 23344 34555 54433 33333 22223 33455 54333 3',
'34433 22344 34444 44333 32222 22222 22345 54333 3',
'34443 22334 44432 33322 11111 22221 22334 44222 3',
'33444 32333 33332 32221 10001 11221 22333 33222 3',
'33344 44333 33322 31111 00000 12322 23222 34443 3',
'33333 44322 22322 31000 00001 12322 22322 23444 4',
'33333 33322 33333 31000 00011 12223 33221 23444 4',
'44333 33333 33333 31000 00122 22333 33222 22344 4',
'33333 33322 21233 31000 00111 23333 32222 22333 3',
'33344 43333 21223 31000 00111 23444 22212 22233 3',
'33344 43333 21123 32100 00112 34444 32223 44322 3',
'33334 33333 32223 43210 01123 44444 32223 44322 3',
'44433 33343 32223 33322 22233 44554 43222 44322 3',
'44333 33333 33223 34444 43333 44554 43332 22332 3',
'33334 44433 43333 34554 33443 34554 43333 32222 3',
'22233 44433 33333 34444 33443 34554 43233 33333 3',
'22233 44433 33333 34333 33333 34444 32233 33334 4',
'22333 44323 44322 33344 23443 33444 44444 44443 3',
'33344 44333 34422 22344 23444 33444 45544 43222 2',
'33344 44333 34443 22244 33444 33455 55554 43322 2',
'33333 33344 44444 42244 43223 33555 55544 43222 2',
'33332 33442 44444 44344 44333 34555 55555 44333 3',
'33332 34423 44444 44444 44433 34555 55445 54433 3',
'33333 34422 34444 44444 44333 34455 55444 44433 3',
'22333 33333 34444 44433 33333 33444 44444 44433 3',
'22344 34443 34444 44333 32344 33333 33332 33333 4',
'21344 44432 34344 44344 32344 33333 33344 43333 4',
'22344 44433 33344 44344 32334 33333 33445 44333 4'];

const sd25Rows = [
'33333 33332 22222 22222 2222',
'33333 33322 22222 11112 2222',
'33333 33222 21111 22222 2222',
'33333 32222 22111 12222 2222',
'33332 22222 22222 22222 2222',
'33222 22222 22222 22222 3333',
'22222 22111 22222 33333 3333',
'22222 22111 12223 33333 3333',
'22222 22221 00001 22333 3333',
'22222 22210 00000 01223 3333',
'22122 22210 00000 00123 3333',
'22222 22100 00000 00122 3321',
'23333 33100 00000 00122 2222',
'44443 33210 00000 01222 2222',
'44444 33321 00000 12222 2233',
'44444 43322 10001 22222 2233',
'44444 43322 21112 22222 3333',
'44444 33322 22222 22223 3333',
'33443 33322 22221 11223 3333',
'33333 33322 22222 11222 2233',
'33333 33222 22222 12222 2222',
'33433 33222 22222 21112 2222',
'33333 33322 33333 33211 3333',
'33333 33333 33333 33222 2333'];

const sd50Rows = [
'22222 22222 22222 22222 2222',
'22223 32222 22222 22222 2222',
'22233 33222 22222 22222 2222',
'22223 32221 11111 11112 2222',
'22222 11111 00000 00111 2222',
'22221 11100 00000 00011 1222',
'22211 10000 00000 00001 1222',
'22110 00000 00000 00000 1122',
'22110 00000 00000 00000 1122',
'22110 00000 00000 00000 0122',
'22110 00000 00000 00000 0112',
'22100 00000 00000 00000 0122',
'22100 00000 00000 00000 1122',
'22100 00000 00000 00000 1122',
'22110 00000 00000 00001 1234',
'22110 00000 00000 00012 3444',
'22211 00000 00000 01112 3444',
'22211 10000 00000 11122 3444',
'22221 11000 00001 11222 3344',
'22222 11100 01112 22233 3344',
'22222 21101 22222 23333 3333',
'22222 22122 22222 33333 3333',
'33222 22222 22222 33333 3333',
'33322 22222 22333 33333 3333'];

const stdRows = [sd5Rows, sd10Rows, sd25Rows, sd50Rows];
// outline tracing: lattice refinement, smoothing passes and reading correction per row
const traceUp = [3, 4, 6, 6];
const tracePasses = [1, 4, 12, 12];
const traceShift = [-0.35, 0, 0, 0];
const exampleMag = [ex5Mag, ex10Mag, ex25Mag, ex50Mag];
const exampleAng = [ex5Ang, ex10Ang, ex25Ang, ex50Ang];
const meanMag = [mean5Mag, mean10Mag, mean25Mag, mean50Mag];
const meanAng = [mean5Ang, mean10Ang, mean25Ang, mean50Ang];

// panel layout in pixels
const colX = [75, 647, 1219.5];
const rowY = [63.5, 629, 1194, 1759.5];
const panelSize = 550.5;
const unitMax = 17;

const BASE_FONT = '"DejaVu Sans", sans-serif';
const ARROW_PX = 2.07;   // pixels per unit of magnitude

function coolwarm(v) {
  const t = Math.max(0, Math.min(1, v / 14.5)) * (coolwarmStops.length - 1);
  const i = Math.min(Math.floor(t), coolwarmStops.length - 2);
  const f = t - i;
  const a = echarts.color.parse(coolwarmStops[i]);
  const b = echarts.color.parse(coolwarmStops[i + 1]);
  return 'rgb(' + [0, 1, 2].map(k => Math.round(a[k] + (b[k] - a[k]) * f)).join(',') + ')';
}

// quiver arrow with the tail on the lattice point
function renderArrow(params, api) {
  const p = api.coord([api.value(0), api.value(1)]);
  const mag = api.value(2);
  const rad = api.value(3) * Math.PI / 180;
  const fill = coolwarm(mag);
  const len = mag * ARROW_PX;
  if (len < 2.6) {
    return { type: 'circle', shape: { cx: p[0], cy: p[1], r: Math.max(1, len / 2) }, style: { fill: fill } };
  }
  const headLen = 9.5, headBack = 8.5, headHalf = 3.3, shaftHalf = 1;
  let pts;
  if (len >= headLen) {
    pts = [[0, shaftHalf], [len - headBack, shaftHalf], [len - headLen, headHalf], [len, 0],
      [len - headLen, -headHalf], [len - headBack, -shaftHalf], [0, -shaftHalf]];
  } else {
    const s = Math.pow(len / headLen, 0.8);
    pts = [[len - headBack * s, 0], [len - headLen * s, headHalf * s], [len, 0], [len - headLen * s, -headHalf * s]];
  }
  const c = Math.cos(rad), n = Math.sin(rad);
  return {
    type: 'polygon',
    shape: { points: pts.map(q => [p[0] + q[0] * c - q[1] * n, p[1] - q[0] * n - q[1] * c]) },
    style: { fill: fill }
  };
}

function renderGlow(params, api) {
  const p = api.coord([api.value(0), api.value(1)]);
  const r = api.size([api.value(2), 0])[0];
  return {
    type: 'circle',
    shape: { cx: p[0], cy: p[1], r: r },
    style: {
      fill: {
        type: 'radial', x: 0.5, y: 0.5, r: 0.5,
        colorStops: [
          { offset: 0, color: '#ffffff' }, { offset: 0.25, color: '#f4f4f4' },
          { offset: 0.45, color: '#b8b8b8' }, { offset: 0.65, color: '#5c5c5c' },
          { offset: 0.82, color: '#1c1c1c' }, { offset: 1, color: '#000000' }
        ]
      }
    }
  };
}

function renderCircle(params, api) {
  const p = api.coord([api.value(0), api.value(1)]);
  const r = api.size([api.value(2), 0])[0];
  return {
    type: 'circle',
    shape: { cx: p[0], cy: p[1], r: r },
    style: { fill: null, stroke: api.visual('color'), lineWidth: 2 }
  };
}

// digit rows -> smoothed field on a finer lattice, only used for tracing the band outlines
function buildField(rows, up, passes, shift) {
  const n = rows.length, m = (n - 1) * up + 1;
  const raw = rows.map(r => r.replace(/ /g, '').padEnd(n, r[r.length - 1]).slice(0, n).split('').map(Number));
  let v = new Float32Array(m * m);
  for (let j = 0; j < m; j++) {
    const fy = j / up, j0 = Math.min(Math.floor(fy), n - 2), ty = fy - j0;
    for (let i = 0; i < m; i++) {
      const fx = i / up, i0 = Math.min(Math.floor(fx), n - 2), tx = fx - i0;
      v[j * m + i] = shift + (raw[j0][i0] * (1 - tx) + raw[j0][i0 + 1] * tx) * (1 - ty) +
        (raw[j0 + 1][i0] * (1 - tx) + raw[j0 + 1][i0 + 1] * tx) * ty;
    }
  }
  for (let p = 0; p < passes; p++) {
    const next = new Float32Array(m * m);
    for (let j = 0; j < m; j++) {
      for (let i = 0; i < m; i++) {
        const l = Math.max(i - 1, 0), r = Math.min(i + 1, m - 1);
        next[j * m + i] = (v[j * m + l] + 2 * v[j * m + i] + v[j * m + r]) / 4;
      }
    }
    for (let j = 0; j < m; j++) {
      const t = Math.max(j - 1, 0), b = Math.min(j + 1, m - 1);
      for (let i = 0; i < m; i++) {
        v[j * m + i] = (next[t * m + i] + 2 * next[j * m + i] + next[b * m + i]) / 4;
      }
    }
  }
  return { m: m, v: v };
}

// one compound path per level: cells clipped to v >= level
function levelPath(field, level, api) {
  const m = field.m, v = field.v, step = unitMax / (m - 1);
  const o = api.coord([0, 0]), e = api.coord([unitMax, unitMax]);
  const sx = (e[0] - o[0]) / unitMax, sy = (e[1] - o[1]) / unitMax;
  const X = i => (o[0] + i * step * sx).toFixed(2);
  const Y = j => (o[1] + j * step * sy).toFixed(2);
  const out = [];
  for (let j = 0; j < m - 1; j++) {
    let run = -1;
    for (let i = 0; i < m; i++) {
      const full = i < m - 1 && v[j * m + i] >= level && v[j * m + i + 1] >= level &&
        v[(j + 1) * m + i] >= level && v[(j + 1) * m + i + 1] >= level;
      if (full) {
        if (run < 0) run = i;
        continue;
      }
      if (run >= 0) {
        out.push('M' + X(run) + ' ' + Y(j) + 'L' + X(i) + ' ' + Y(j) + 'L' + X(i) + ' ' + Y(j + 1) + 'L' + X(run) + ' ' + Y(j + 1) + 'Z');
        run = -1;
      }
      if (i === m - 1) continue;
      const c = [[i, j], [i + 1, j], [i + 1, j + 1], [i, j + 1]];
      const val = c.map(q => v[q[1] * m + q[0]]);
      const pts = [];
      for (let k = 0; k < 4; k++) {
        const a = val[k], b = val[(k + 1) % 4], q = c[k], w = c[(k + 1) % 4];
        if (a >= level) pts.push(q);
        if ((a >= level) !== (b >= level)) {
          const t = (level - a) / (b - a);
          pts.push([q[0] + (w[0] - q[0]) * t, q[1] + (w[1] - q[1]) * t]);
        }
      }
      if (pts.length > 2) {
        out.push(pts.map((q, n) => (n ? 'L' : 'M') + X(q[0]) + ' ' + Y(q[1])).join('') + 'Z');
      }
    }
  }
  return out.join('');
}

const grids = [], xAxes = [], yAxes = [], series = [], titles = [];

function addPanel(col, row) {
  const idx = grids.length;
  grids.push({
    left: colX[col], top: rowY[row], width: panelSize, height: panelSize,
    show: true, backgroundColor: '#000', borderColor: '#000', borderWidth: 1.5
  });
  xAxes.push({ gridIndex: idx, type: 'value', min: 0, max: unitMax, show: false });
  const yAxis = { gridIndex: idx, type: 'value', min: 0, max: unitMax, inverse: true, show: false };
  if (col === 0) {
    yAxis.show = true;
    yAxis.axisLine = { show: false };
    yAxis.axisTick = { show: false };
    yAxis.axisLabel = { show: false };
    yAxis.splitLine = { show: false };
    yAxis.name = '{b|\u03b2}\u2009=\u2009' + betaValues[row];
    yAxis.nameLocation = 'middle';
    yAxis.nameRotate = 90;
    yAxis.nameGap = 20;
    yAxis.nameTextStyle = {
      fontFamily: BASE_FONT, fontSize: 55, color: '#000',
      rich: { b: { fontFamily: BASE_FONT, fontSize: 55, fontStyle: 'italic', color: '#000' } }
    };
  }
  yAxes.push(yAxis);
  return idx;
}

function addQuiver(col, row, magRows, angRows) {
  const idx = addPanel(col, row);
  series.push({
    type: 'custom', xAxisIndex: idx, yAxisIndex: idx, silent: true,
    renderItem: renderGlow, data: [glowCentre], z: 2
  });
  const data = [];
  magRows.forEach((r, j) => r.forEach((m, i) => data.push([i, j, m, angRows[j][i]])));
  series.push({
    type: 'custom', xAxisIndex: idx, yAxisIndex: idx, silent: true, clip: true,
    renderItem: renderArrow, data: data, z: 3
  });
}

function addContour(row, rows) {
  const idx = addPanel(2, row);
  const field = buildField(rows, traceUp[row], tracePasses[row], traceShift[row]);
  series.push({
    type: 'custom', xAxisIndex: idx, yAxisIndex: idx, silent: true, clip: true, z: 2,
    data: magmaBands.map((c, k) => [k, 0]),
    renderItem: function (params, api) {
      const k = api.value(0);
      return {
        type: 'path',
        shape: { pathData: levelPath(field, k === 0 ? -1 : k - 0.5, api) },
        style: { fill: magmaBands[k] }
      };
    }
  });
  series.push({
    name: 'I1', type: 'custom', xAxisIndex: idx, yAxisIndex: idx, silent: true, z: 3,
    itemStyle: { color: '#ff0000' }, renderItem: renderCircle, data: [circleI1]
  });
  series.push({
    name: 'I2', type: 'custom', xAxisIndex: idx, yAxisIndex: idx, silent: true, z: 3,
    itemStyle: { color: '#00ffff' }, renderItem: renderCircle, data: [circleI2]
  });
}

betaValues.forEach((b, row) => {
  addQuiver(0, row, exampleMag[row], exampleAng[row]);
  addQuiver(1, row, meanMag[row], meanAng[row]);
  addContour(row, stdRows[row]);
});

columnTitles.forEach((t, col) => {
  titles.push({
    text: t, left: colX[col] + panelSize / 2, top: 9.5, padding: 0, textAlign: 'center',
    textStyle: { fontFamily: BASE_FONT, fontSize: 55.5, fontWeight: 'normal', color: '#000' }
  });
});

// colour bars
function addColorbar(left, width, max, interval, fmt) {
  const idx = grids.length;
  grids.push({
    left: left, top: 2333.5, width: width, height: 46,
    show: true, borderColor: '#000', borderWidth: 1, backgroundColor: '#fff'
  });
  xAxes.push({
    gridIndex: idx, type: 'value', min: 0, max: max, interval: interval, position: 'bottom',
    axisLine: { show: false }, splitLine: { show: false },
    axisTick: { show: true, length: 6, lineStyle: { color: '#000', width: 1 } },
    axisLabel: { show: true, margin: 9, color: '#000', fontFamily: BASE_FONT, fontSize: 26, formatter: fmt, hideOverlap: false, showMinLabel: true, showMaxLabel: true }
  });
  yAxes.push({ gridIndex: idx, type: 'value', min: 0, max: 1, show: false });
  return idx;
}

const speedBar = addColorbar(172.5, 928, 14.5, 2, v => (v > 14 ? '' : String(v)));
series.push({
  type: 'custom', xAxisIndex: speedBar, yAxisIndex: speedBar, silent: true, z: 2,
  data: [[0, 14.5]],
  renderItem: function (params, api) {
    const a = api.coord([api.value(0), 1]), b = api.coord([api.value(1), 0]);
    return {
      type: 'rect',
      shape: { x: a[0], y: a[1], width: b[0] - a[0], height: b[1] - a[1] },
      style: {
        fill: {
          type: 'linear', x: 0, y: 0, x2: 1, y2: 0,
          colorStops: coolwarmStops.map((c, i) => ({ offset: i / (coolwarmStops.length - 1), color: c }))
        }
      }
    };
  }
});

const sdBar = addColorbar(1262, 464, 11, 2.2, v => v.toFixed(1));
series.push({
  type: 'custom', xAxisIndex: sdBar, yAxisIndex: sdBar, silent: true, z: 2,
  data: magmaBands.map((c, k) => [bandEdges[k], bandEdges[k + 1], k]),
  renderItem: function (params, api) {
    const a = api.coord([api.value(0), 1]), b = api.coord([api.value(1), 0]);
    return {
      type: 'rect',
      shape: { x: a[0], y: a[1], width: b[0] - a[0] + 0.5, height: b[1] - a[1] },
      style: { fill: magmaBands[api.value(2)] }
    };
  }
});

const chart = echarts.init(document.getElementById('chart'), null, { renderer: 'canvas' });
chart.setOption({
  animation: false,
  backgroundColor: '#fff',
  title: titles,
  grid: grids,
  xAxis: xAxes,
  yAxis: yAxes,
  legend: {
    left: 1568, top: 84, orient: 'vertical',
    data: ['I1', 'I2'],
    selectedMode: false,
    icon: 'rect',
    itemWidth: 85, itemHeight: 3, itemGap: 8,
    padding: [12, 12, 11, 16],
    backgroundColor: 'rgba(255,255,255,0.8)',
    borderColor: 'rgba(204,204,204,0.8)', borderWidth: 1, borderRadius: 8,
    formatter: name => '{i|I}{s|' + name.slice(1) + '}',
    textStyle: {
      rich: {
        i: { fontFamily: BASE_FONT, fontSize: 46, fontStyle: 'italic', color: '#000', lineHeight: 57, padding: [0, 2, 0, 26] },
        s: { fontFamily: BASE_FONT, fontSize: 32, color: '#000', verticalAlign: 'bottom', padding: [22, 0, 0, 0], lineHeight: 57 }
      }
    }
  },
  series: series
});
</script>
</body>
</html>
